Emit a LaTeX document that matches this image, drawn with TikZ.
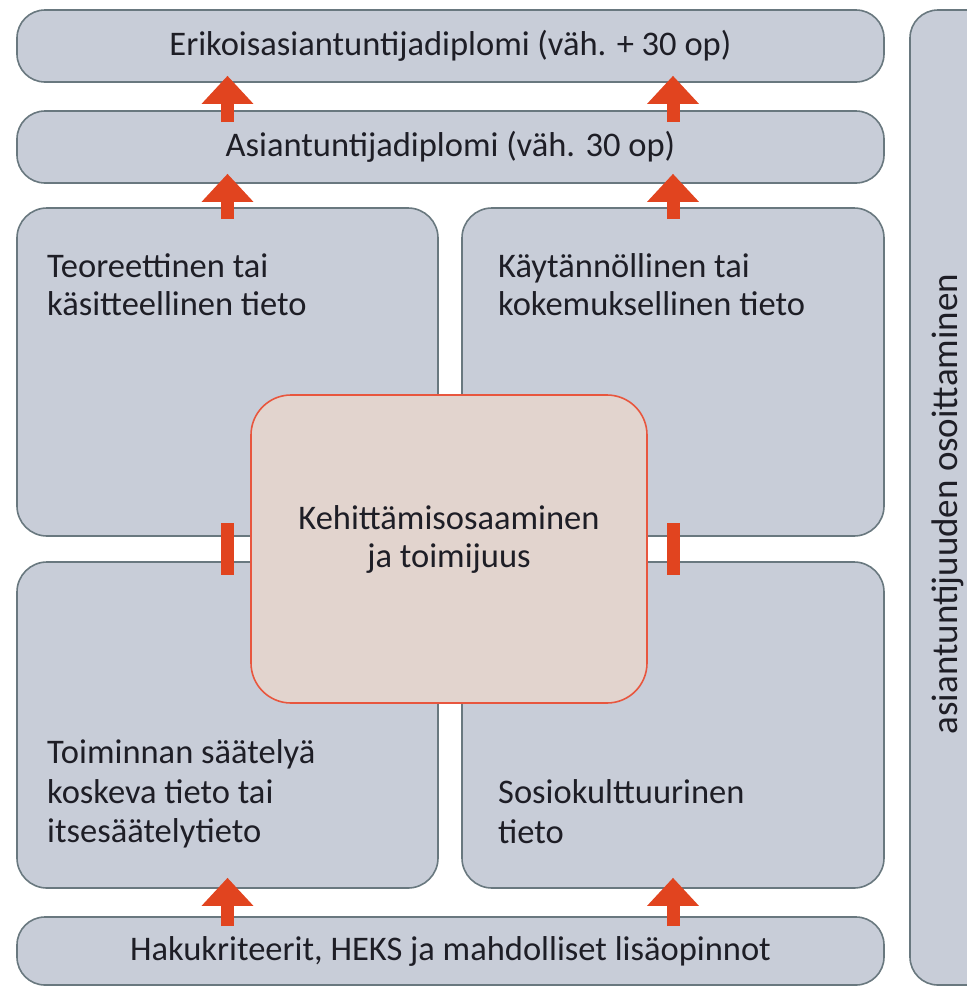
\documentclass[tikz,border=0pt]{standalone}
\usepackage{fontspec}
\setmainfont{Carlito}
\usetikzlibrary{arrows.meta,calc}
\definecolor{boxfill}{HTML}{C8CDD8}
\definecolor{boxline}{HTML}{69787F}
\definecolor{cfill}{HTML}{E2D4CE}
\definecolor{cline}{HTML}{E8563E}
\definecolor{arr}{HTML}{E1441F}
\definecolor{txt}{HTML}{1E1E26}
\begin{document}
\begin{tikzpicture}[x=1pt,y=-1pt,
  box/.style={draw=boxline, line width=1.6pt, fill=boxfill, inner sep=0pt, text=txt},
  bar/.style={box, rounded corners=28pt, minimum width=867pt, font=\fontsize{34.5}{38}\selectfont},
  quad/.style={box, rounded corners=30pt, minimum height=328pt},
  lbl/.style={inner sep=0pt, text=txt, align=left, anchor=north west, font=\fontsize{34.5}{38.5}\selectfont},
  lblb/.style={lbl, font=\fontsize{34.5}{39.5}\selectfont},
  bigarrow/.style={draw=arr, line width=13pt, -{Triangle[width=50pt,length=28pt]}},
  redbar/.style={fill=arr, draw=none, minimum width=13pt, minimum height=52pt, inner sep=0pt}]
\useasboundingbox (0,0) rectangle (967,986);
\fill[white] (0,0) rectangle (967,986);
% right vertical bar
\node[box, rounded corners=28pt, minimum width=100pt, minimum height=975pt] (rb) at (960,497.5) {};
\node[inner sep=0pt, text=txt, rotate=90, font=\fontsize{37}{40}\selectfont] (rbt) at (948,504) {asiantuntijuuden osoittaminen};
% horizontal bars
\node[bar, minimum height=72pt] (e1) at (450.5,46) {Erikoisasiantuntijadiplomi (väh. + 30 op)};
\node[bar, minimum height=72pt] (a2) at (450.5,147) {Asiantuntijadiplomi (väh. 30 op)};
\node[bar, minimum height=68pt] (hk) at (450.5,951) {Hakukriteerit, HEKS ja mahdolliset lisäopinnot};
% quadrants
\node[quad, minimum width=421pt] (tl) at (227.5,372) {};
\node[quad, minimum width=422pt] (tr) at (673,372) {};
\node[quad, minimum width=421pt, minimum height=326pt] (bl) at (227.5,725) {};
\node[quad, minimum width=422pt, minimum height=326pt] (br) at (673,725) {};
\node[lbl] (tlt) at (47,250) {\strut Teoreettinen tai\\käsitteellinen tieto};
\node[lbl] (trt) at (498,250) {\strut Käytännöllinen tai\\kokemuksellinen tieto};
\node[lblb] (blt) at (47,736) {\strut Toiminnan säätelyä\\koskeva tieto tai\\itsesäätelytieto};
\node[lblb] (brt) at (498,776) {\strut Sosiokulttuurinen\\tieto};
% centre
\node[draw=cline, line width=1.6pt, fill=cfill, rounded corners=40pt, minimum width=396pt, minimum height=308pt] (c) at (449,549) {};
\node[lbl, anchor=north, align=center] (ct) at (449,502) {\strut Kehittämisosaaminen\\ja toimijuus};
% red connectors
\node[redbar] (r1) at ($(tl.south)!0.5!(bl.north)$) {};
\node[redbar] (r2) at ($(tr.south)!0.5!(br.north)$) {};
% arrows
\draw[bigarrow] ($(a2.north -| tl.north)+(0,12)$) -- ($(e1.south -| tl.north)+(0,-7)$);
\draw[bigarrow] ($(a2.north -| tr.north)+(0,12)$) -- ($(e1.south -| tr.north)+(0,-7)$);
\draw[bigarrow] ($(tl.north)+(0,12)$) -- ($(a2.south -| tl.north)+(0,-10)$);
\draw[bigarrow] ($(tr.north)+(0,12)$) -- ($(a2.south -| tr.north)+(0,-10)$);
\draw[bigarrow] ($(hk.north -| bl.south)+(0,10)$) -- ($(bl.south)+(0,-11)$);
\draw[bigarrow] ($(hk.north -| br.south)+(0,10)$) -- ($(br.south)+(0,-11)$);
\end{tikzpicture}
\end{document}
